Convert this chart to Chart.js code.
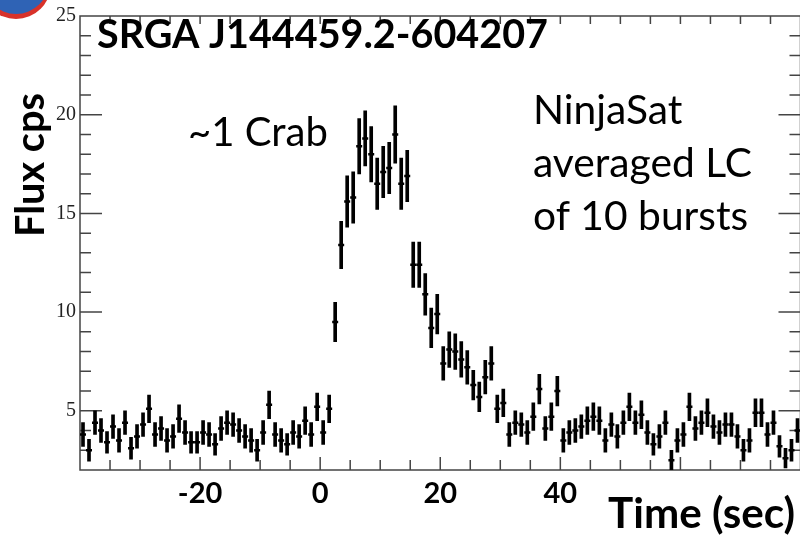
<!DOCTYPE html>
<html>
<head>
<meta charset="utf-8">
<script src="https://cdn.jsdelivr.net/npm/chart.js@4.4.1/dist/chart.umd.min.js"></script>
<style>
  html, body { margin: 0; padding: 0; background: #fff; overflow: hidden; }
  canvas { display: block; }
</style>
</head>
<body>
<!-- a few px wider than the window so the frame's right edge sits at the border -->
<canvas id="lcChart" width="806" height="538"></canvas>
<script>
// bin centres (sec), 1 s bins
const binTime = [
  -39.5, -38.5, -37.5, -36.5, -35.5, -34.5, -33.5, -32.5, -31.5, -30.5,
  -29.5, -28.5, -27.5, -26.5, -25.5, -24.5, -23.5, -22.5, -21.5, -20.5,
  -19.5, -18.5, -17.5, -16.5, -15.5, -14.5, -13.5, -12.5, -11.5, -10.5,
  -9.5, -8.5, -7.5, -6.5, -5.5, -4.5, -3.5, -2.5, -1.5, -0.5,
  0.5, 1.5, 2.5, 3.5, 4.5, 5.5, 6.5, 7.5, 8.5, 9.5,
  10.5, 11.5, 12.5, 13.5, 14.5, 15.5, 16.5, 17.5, 18.5, 19.5,
  20.5, 21.5, 22.5, 23.5, 24.5, 25.5, 26.5, 27.5, 28.5, 29.5,
  30.5, 31.5, 32.5, 33.5, 34.5, 35.5, 36.5, 37.5, 38.5, 39.5,
  40.5, 41.5, 42.5, 43.5, 44.5, 45.5, 46.5, 47.5, 48.5, 49.5,
  50.5, 51.5, 52.5, 53.5, 54.5, 55.5, 56.5, 57.5, 58.5, 59.5,
  60.5, 61.5, 62.5, 63.5, 64.5, 65.5, 66.5, 67.5, 68.5, 69.5,
  70.5, 71.5, 72.5, 73.5, 74.5, 75.5, 76.5, 77.5, 78.5, 79.5
];

const flux = [
  3.8, 3.0, 4.4, 4.0, 3.4, 4.2, 3.5, 4.4, 3.1, 3.7,
  4.3, 5.1, 3.8, 4.1, 3.5, 3.7, 4.6, 3.9, 3.4, 3.4,
  3.9, 3.8, 3.3, 4.1, 4.4, 4.3, 4.0, 3.7, 3.5, 3.0,
  3.9, 5.3, 3.8, 3.5, 3.3, 3.9, 3.7, 4.5, 3.8, 5.2,
  3.9, 5.1, 9.5, 13.4, 15.6, 15.8, 18.4, 18.8, 18.0, 16.5,
  17.1, 17.3, 19.0, 16.5, 16.9, 12.4, 12.4, 10.9, 9.2, 9.9,
  7.4, 8.1, 8.0, 7.6, 7.2, 6.3, 5.7, 6.7, 7.4, 5.1,
  5.4, 3.8, 4.4, 4.3, 3.9, 4.7, 6.1, 4.1, 4.7, 6.0,
  3.5, 3.9, 4.0, 4.2, 4.5, 4.7, 4.5, 3.5, 4.3, 3.7,
  4.4, 5.2, 4.4, 4.8, 3.9, 3.3, 3.7, 4.4, 2.5, 3.5,
  3.8, 5.2, 4.1, 4.4, 4.9, 4.2, 3.9, 4.3, 4.3, 3.7,
  3.0, 3.5, 4.9, 4.9, 3.8, 4.4, 3.2, 2.6, 3.0, 4.0
];

const fluxErr = [
  0.6, 0.55, 0.6, 0.6, 0.55, 0.6, 0.6, 0.6, 0.55, 0.6,
  0.6, 0.7, 0.6, 0.6, 0.6, 0.6, 0.7, 0.6, 0.55, 0.55,
  0.6, 0.6, 0.55, 0.6, 0.6, 0.6, 0.6, 0.6, 0.6, 0.55,
  0.6, 0.7, 0.6, 0.6, 0.55, 0.6, 0.6, 0.7, 0.6, 0.7,
  0.6, 0.7, 1.0, 1.2, 1.3, 1.3, 1.4, 1.4, 1.4, 1.3,
  1.3, 1.3, 1.45, 1.3, 1.3, 1.15, 1.15, 1.05, 1.0, 1.0,
  0.85, 0.9, 0.9, 0.9, 0.85, 0.75, 0.75, 0.85, 0.85, 0.7,
  0.7, 0.6, 0.6, 0.6, 0.6, 0.7, 0.75, 0.6, 0.7, 0.75,
  0.6, 0.6, 0.6, 0.6, 0.7, 0.7, 0.7, 0.6, 0.6, 0.6,
  0.6, 0.7, 0.6, 0.7, 0.6, 0.55, 0.6, 0.6, 0.5, 0.6,
  0.6, 0.7, 0.6, 0.6, 0.7, 0.6, 0.6, 0.6, 0.6, 0.6,
  0.55, 0.6, 0.7, 0.7, 0.6, 0.6, 0.55, 0.5, 0.55, 0.6
];

const xTickLabels = [-20, 0, 20, 40];
const yTickLabels = [5, 10, 15, 20, 25];

const sourceName = 'SRGA J144459.2-604207';
const crabNote = '~1 Crab';
const noteLines = ['NinjaSat', 'averaged LC', 'of 10 bursts'];

// ROOT-like frame with inward ticks on all four sides
const frameTicks = {
    id: 'frameTicks',
    beforeDatasetsDraw(chart) {
        const { ctx, chartArea: a, scales: { x, y } } = chart;
        ctx.save();
        ctx.strokeStyle = '#444';
        ctx.lineWidth = 1.5;
        ctx.strokeRect(a.left, a.top, a.right - a.left, a.bottom - a.top);
        ctx.beginPath();
        for (let v = 3; v < 25; v++) {
            const py = y.getPixelForValue(v);
            const len = v % 5 === 0 ? 22 : 11;
            ctx.moveTo(a.left, py); ctx.lineTo(a.left + len, py);
            ctx.moveTo(a.right, py); ctx.lineTo(a.right - len, py);
        }
        for (let t = -35; t < 80; t += 5) {
            const px = x.getPixelForValue(t);
            const len = t % 20 === 0 ? 13 : 10;
            ctx.moveTo(px, a.bottom); ctx.lineTo(px, a.bottom - len);
            ctx.moveTo(px, a.top); ctx.lineTo(px, a.top + 8);
        }
        ctx.stroke();
        ctx.restore();
    }
};

function fitText(ctx, text, x, y, width, weight, family) {
    ctx.font = `${weight} 40px ${family}`;
    const size = 40 * width / ctx.measureText(text).width;
    ctx.font = `${weight} ${size}px ${family}`;
    ctx.fillText(text, x, y);
    return size;
}

const labels = {
    id: 'labels',
    afterDraw(chart) {
        const ctx = chart.ctx;
        ctx.save();

        // bit of the logo cut off in the corner
        ctx.fillStyle = '#d8322a';
        ctx.beginPath(); ctx.arc(16, -16, 35, 0, Math.PI); ctx.fill();
        ctx.fillStyle = '#2f63b5';
        ctx.beginPath(); ctx.arc(16, -19, 33, 0, Math.PI); ctx.fill();

        ctx.fillStyle = '#000';
        ctx.textAlign = 'left';
        ctx.textBaseline = 'alphabetic';
        fitText(ctx, sourceName, 97, 48, 451, 'bold', 'Lato');
        fitText(ctx, crabNote, 188, 146, 140, 'normal', 'Lato');

        ctx.font = 'normal 38px Lato';
        const s = 38 * 219 / ctx.measureText(noteLines[1]).width;
        ctx.font = `normal ${s}px Lato`;
        noteLines.forEach((t, i) => ctx.fillText(t, 533, 124 + i * 53));

        ctx.textAlign = 'right';
        fitText(ctx, 'Time (sec)', 795, 528, 187, 'bold', 'Lato');

        ctx.translate(44, 165);
        ctx.rotate(-Math.PI / 2);
        ctx.textAlign = 'center';
        ctx.font = 'bold 40px Lato';
        const fs = 40 * 144 / ctx.measureText('Flux cps').width;
        ctx.font = `bold ${fs}px Lato`;
        ctx.fillText('Flux cps', 0, 0);
        ctx.restore();
    }
};

const errData = binTime.map((t, i) => ({ x: t, y: [flux[i] - fluxErr[i], flux[i] + fluxErr[i]] }));
const ptData = binTime.map((t, i) => ({ x: t, y: flux[i] }));

let ctx = document.getElementById('lcChart').getContext('2d');
let chart = new Chart(ctx, {
    type: 'bar',
    data: {
        datasets: [
            {
                type: 'bar',
                label: 'error',
                data: errData,
                backgroundColor: '#000',
                borderWidth: 0,
                barThickness: 3,
                grouped: false
            },
            {
                type: 'scatter',
                label: 'flux',
                data: ptData,
                pointStyle: 'line',
                pointRadius: 3,
                pointHoverRadius: 3,
                borderColor: '#000',
                borderWidth: 2.5,
                showLine: false
            }
        ]
    },
    options: {
        responsive: false,
        animation: false,
        events: [],
        layout: { padding: { top: 12, right: 0, left: 0, bottom: 0 } },
        plugins: { legend: { display: false }, tooltip: { enabled: false } },
        scales: {
            x: {
                type: 'linear',
                offset: false,
                min: -40,
                max: 80,
                grid: { display: false, drawTicks: false, offset: false },
                border: { display: false },
                afterBuildTicks: s => { s.ticks = xTickLabels.map(v => ({ value: v })); },
                afterFit: s => { s.height = 68; },
                ticks: {
                    color: '#000',
                    padding: 6,
                    maxRotation: 0,
                    font: { family: 'Lato', weight: 'bold', size: 29 }
                }
            },
            y: {
                min: 2,
                max: 25,
                grid: { display: false, drawTicks: false },
                border: { display: false },
                afterBuildTicks: s => { s.ticks = yTickLabels.map(v => ({ value: v })); },
                afterFit: s => { s.width = 80; },
                ticks: {
                    color: '#222',
                    padding: 4,
                    font: { family: 'Liberation Serif', size: 20 }
                }
            }
        }
    },
    plugins: [frameTicks, labels]
});
</script>
</body>
</html>
